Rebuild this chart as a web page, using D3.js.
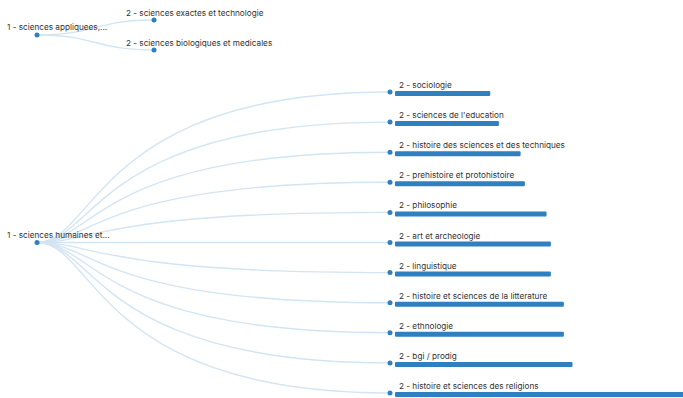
<!DOCTYPE html>
<html><head><meta charset="utf-8">
<script src="https://cdn.jsdelivr.net/npm/d3@7"></script>
<style>
html,body{margin:0;padding:0;background:#fff;}
svg{display:block;}
text{font-family:Inter,"Liberation Sans",Arial,sans-serif;font-size:8.2px;fill:#333;}
</style></head>
<body>
<svg id="chart" width="683" height="398"></svg>
<script>
const root1Label = "1 - sciences appliquees,...";
const root1Children = ["2 - sciences exactes et technologie", "2 - sciences biologiques et medicales"];
const root2Label = "1 - sciences humaines et...";
const root2Children = ["2 - sociologie", "2 - sciences de l'education", "2 - histoire des sciences et des techniques",
  "2 - prehistoire et protohistoire", "2 - philosophie", "2 - art et archeologie", "2 - linguistique",
  "2 - histoire et sciences de la litterature", "2 - ethnologie", "2 - bgi / prodig", "2 - histoire et sciences des religions"];
const root2Values = [22, 24, 29, 30, 35, 36, 36, 39, 39, 41, 75];

const svg = d3.select("#chart");
const linkColor = "#d3e4f2";
const nodeColor = "#2f80c0";
const treeChildX = 154;

function drawGroup(rootLabel, children, values, cfg) {
  const data = {name: rootLabel, children: children.map((c, i) => ({name: c, value: values ? values[i] : null}))};
  const root = d3.hierarchy(data);
  const y = d3.scalePoint().domain(children).range(cfg.yRange);
  root.x = cfg.rootX; root.y = (cfg.yRange[0] + cfg.yRange[1]) / 2;
  root.children.forEach(c => { c.x = cfg.childX; c.y = y(c.data.name); });
  const g = svg.append("g");
  const path = l => {
    const m = (l.source.x + treeChildX) / 2;
    const p = d3.path();
    p.moveTo(l.source.x, l.source.y);
    p.bezierCurveTo(m, l.source.y, m, l.target.y, l.target.x, l.target.y);
    return p.toString();
  };
  g.selectAll("path.link").data(root.links()).join("path")
    .attr("d", path).attr("fill", "none").attr("stroke", linkColor).attr("stroke-width", 1.4);
  if (values) {
    const xs = d3.scaleLinear().domain([0, 100]).range([0, 433]);
    g.selectAll("rect.bar").data(root.children).join("rect")
      .attr("x", d => d.x + 5).attr("y", d => d.y - 1)
      .attr("width", d => xs(d.data.value)).attr("height", 5)
      .attr("rx", 1).attr("fill", nodeColor);
  }
  g.selectAll("circle").data(root.descendants()).join("circle")
    .attr("cx", d => d.x).attr("cy", d => d.y).attr("r", 2.5).attr("fill", nodeColor);
  g.selectAll("text").data(root.descendants()).join("text")
    .attr("x", d => d.depth === 0 ? d.x - 30 : d.x + cfg.childLabelDx)
    .attr("y", d => d.y - (d.depth === 0 ? 5 : 4))
    .text(d => d.data.name);
}

drawGroup(root1Label, root1Children, null, {rootX: 37, childX: 154, yRange: [20, 50], childLabelDx: -28});
drawGroup(root2Label, root2Children, root2Values, {rootX: 37, childX: 390, yRange: [92, 393], childLabelDx: 9});
</script>
</body></html>
